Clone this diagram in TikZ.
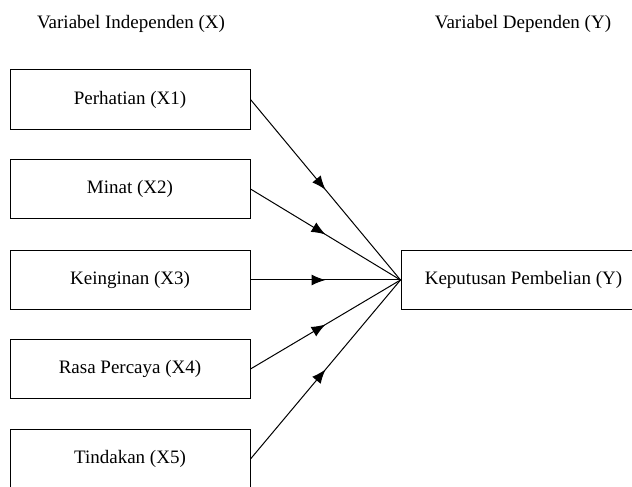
\documentclass[tikz,border=0pt]{standalone}
\usepackage{fontspec}
\setmainfont{Liberation Serif}
\usetikzlibrary{arrows.meta,decorations.markings}
\begin{document}
\begin{tikzpicture}[x=1pt,y=1pt,
  every node/.style={font=\fontsize{19}{22}\selectfont},
  varbox/.style={draw, line width=1pt, minimum width=240pt, minimum height=59.5pt, inner sep=0pt},
  link/.style={line width=1pt, postaction={decorate},
    decoration={markings, mark=at position 0.5 with {\arrow{Latex[length=14pt,width=11pt]}}}}]
\useasboundingbox (0,0) rectangle (632,487);
\clip (0,0) rectangle (632,487);
\node[anchor=base] (tx) at (131,458.5) {Variabel Independen (X)};
\node[anchor=base] (ty) at (523,458.5) {Variabel Dependen (Y)};
\node[varbox] (b1) at (130,387.5) {Perhatian (X1)};
\node[varbox] (b2) at (130,298) {Minat (X2)};
\node[varbox] (b3) at (130,207) {Keinginan (X3)};
\node[varbox] (b4) at (130,118) {Rasa Percaya (X4)};
\node[varbox] (b5) at (130,28) {Tindakan (X5)};
\node[varbox, minimum width=245pt] (k) at (523.5,207) {Keputusan Pembelian (Y)};
\foreach \b in {b1,b2,b3,b4,b5}
  \draw[link] (\b.east) -- (k.west);
\end{tikzpicture}
\end{document}
